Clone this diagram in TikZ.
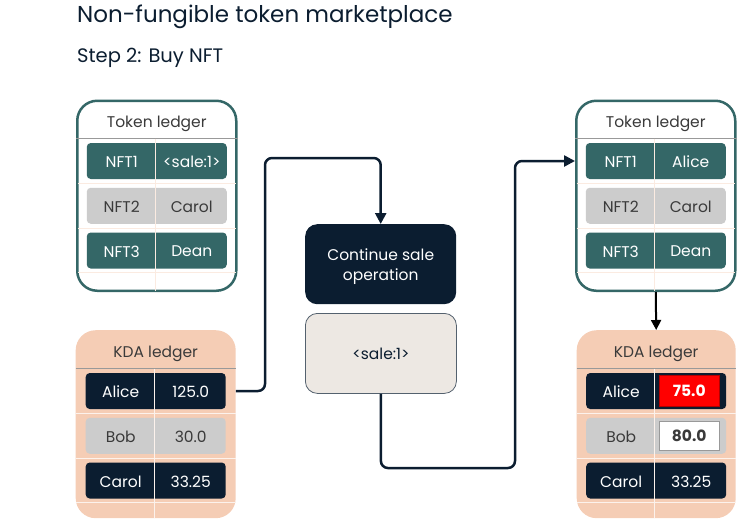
\documentclass[tikz,border=0pt]{standalone}
\usepackage{fontspec}
\setmainfont{Poppins}
\usetikzlibrary{arrows.meta,positioning,calc}

\definecolor{tealbox}{HTML}{346767}
\definecolor{navy}{HTML}{0B1D30}
\definecolor{peach}{HTML}{F5CDB5}
\definecolor{cellgray}{HTML}{CCCCCC}
\definecolor{beige}{HTML}{EDE8E3}
\definecolor{txtgray}{HTML}{3A3A3A}
\definecolor{alert}{HTML}{FF0000}

\begin{document}
\begin{tikzpicture}[x=1pt,y=-1pt,
  every node/.style={font=\fontsize{15.5}{20}\selectfont},
  ledger/.style={draw=tealbox,line width=2.5pt,rounded corners=20pt,fill=white,
    minimum width=159pt,minimum height=190pt,inner sep=0pt,anchor=north west},
  kda/.style={fill=peach,rounded corners=20pt,minimum width=160pt,
    minimum height=188pt,inner sep=0pt,anchor=north west},
  row/.style={rounded corners=4pt,minimum width=140pt,minimum height=36pt,inner sep=0pt},
  tealrow/.style={row,fill=tealbox},
  navyrow/.style={row,fill=navy},
  grayrow/.style={row,fill=cellgray},
  sepline/.style={draw=black!40,line width=1pt},
  gridline/.style={draw=peach!40,line width=0.8pt},
  opbox/.style={rounded corners=12pt,minimum width=151pt,minimum height=80pt,
    inner sep=0pt,align=center,anchor=north west},
  flow/.style={draw=navy,line width=2.5pt,rounded corners=7pt,
    -{Triangle[length=11pt,width=11pt]}},
]
\useasboundingbox (0,0) rectangle (746,520);

% titles
\node[anchor=west,inner sep=0pt,text=navy,font=\fontsize{23}{28}\selectfont] (title) at (77,17) {Non-fungible token marketplace};
\node[anchor=west,inner sep=0pt,text=navy,font=\fontsize{19.5}{24}\selectfont] (step) at (77,58) {Step 2: Buy NFT};

% token ledger, before
\node[ledger] (tokL) at (76,99.5) {};
\node[text=txtgray] (tokL-head) at ($(tokL.north)+(0,24.5)$) {Token ledger};
\draw[sepline] ($(tokL.north west)+(0,38.5)$) -- ($(tokL.north east)+(0,38.5)$);
\foreach \i/\a/\b/\s/\c in {1/NFT1/{<sale:1>}/tealrow/white,2/NFT2/Carol/grayrow/txtgray,3/NFT3/Dean/tealrow/white}{
  \node[\s] (tokL-r\i) at ($(tokL.north)+(0,16.75+44.75*\i)$) {};
  \node[text=\c] (tokL-a\i) at ($(tokL-r\i.center)+(-35,1)$) {\a};
  \node[text=\c] (tokL-b\i) at ($(tokL-r\i.center)+(35,1)$) {\b};
}
\foreach \k in {84,128.5,173}
  \draw[gridline] ($(tokL.north west)+(1.5,\k)$) -- ($(tokL.north east)+(-1.5,\k)$);
\draw[gridline] ($(tokL.north)+(-1.5,39)$) -- ($(tokL.south)+(-1.5,-1.5)$);

% KDA ledger, before
\node[kda] (kdaL) at (75.5,330) {};
\node[text=txtgray] (kdaL-head) at ($(kdaL.north)+(0,24)$) {KDA ledger};
\draw[sepline] ($(kdaL.north west)+(0,38)$) -- ($(kdaL.north east)+(0,38)$);
\foreach \i/\a/\b/\s/\c in {1/Alice/125.0/navyrow/white,2/Bob/30.0/grayrow/txtgray,3/Carol/33.25/navyrow/white}{
  \node[\s] (kdaL-r\i) at ($(kdaL.north)+(0,16.25+44.75*\i)$) {};
  \node[text=\c] (kdaL-a\i) at ($(kdaL-r\i.center)+(-35,1)$) {\a};
  \node[text=\c] (kdaL-b\i) at ($(kdaL-r\i.center)+(35,1)$) {\b};
}
\foreach \k in {83.5,128,172.5}
  \draw[gridline,draw=white!75!peach] (kdaL.north west |- 0,{330+\k}) -- (kdaL.north east |- 0,{330+\k});
\draw[gridline,draw=white!75!peach] ($(kdaL.north)+(-1.5,38.5)$) -- ($(kdaL.south)+(-1.5,0)$);

% operation
\node[opbox,fill=navy,text=white,text depth=0pt,yshift=-2pt] (op) at (305,222) {Continue sale\\operation};
\node[opbox,fill=beige,draw=navy!70,line width=0.8pt,text=navy] (sale) at (305,313) {<sale:1>};

% token ledger, after
\node[ledger] (tokR) at (575,99.5) {};
\node[text=txtgray] (tokR-head) at ($(tokR.north)+(0,24.5)$) {Token ledger};
\draw[sepline] ($(tokR.north west)+(0,38.5)$) -- ($(tokR.north east)+(0,38.5)$);
\foreach \i/\a/\b/\s/\c in {1/NFT1/Alice/tealrow/white,2/NFT2/Carol/grayrow/txtgray,3/NFT3/Dean/tealrow/white}{
  \node[\s] (tokR-r\i) at ($(tokR.north)+(0,16.75+44.75*\i)$) {};
  \node[text=\c] (tokR-a\i) at ($(tokR-r\i.center)+(-35,1)$) {\a};
  \node[text=\c] (tokR-b\i) at ($(tokR-r\i.center)+(35,1)$) {\b};
}
\foreach \k in {84,128.5,173}
  \draw[gridline] ($(tokR.north west)+(1.5,\k)$) -- ($(tokR.north east)+(-1.5,\k)$);
\draw[gridline] ($(tokR.north)+(-1.5,39)$) -- ($(tokR.south)+(-1.5,-1.5)$);

% KDA ledger, after
\node[kda,minimum width=159pt] (kdaR) at (576.5,330) {};
\node[text=txtgray] (kdaR-head) at ($(kdaR.north)+(0,24)$) {KDA ledger};
\draw[sepline] ($(kdaR.north west)+(0,38)$) -- ($(kdaR.north east)+(0,38)$);
\foreach \i/\a/\b/\s/\c in {1/Alice/{}/navyrow/white,2/Bob/{}/grayrow/txtgray,3/Carol/33.25/navyrow/white}{
  \node[\s] (kdaR-r\i) at ($(kdaR.north)+(0,16.25+44.75*\i)$) {};
  \node[text=\c] (kdaR-a\i) at ($(kdaR-r\i.center)+(-35,1)$) {\a};
  \node[text=\c] (kdaR-b\i) at ($(kdaR-r\i.center)+(35,1)$) {\b};
}
\foreach \k in {83.5,128,172.5}
  \draw[gridline,draw=white!75!peach] (kdaR.north west |- 0,{330+\k}) -- (kdaR.north east |- 0,{330+\k});
\draw[gridline,draw=white!75!peach] ($(kdaR.north)+(-1.5,38.5)$) -- ($(kdaR.south)+(-1.5,0)$);
\node[fill=alert,draw=red!70!black,line width=0.8pt,minimum width=60pt,minimum height=31pt,
  inner sep=0pt,text=white,font=\fontsize{15.5}{20}\selectfont\bfseries] (new1) at ($(kdaR-r1.center)+(33,0)$) {75.0};
\node[fill=white,draw=black!40,line width=0.8pt,minimum width=60pt,minimum height=29pt,
  inner sep=0pt,text=txtgray,font=\fontsize{15.5}{20}\selectfont\bfseries] (new2) at ($(kdaR-r2.center)+(33,0)$) {80.0};

% connectors
\coordinate (j1) at (265,158);
\coordinate (j2) at (515,468);
\draw[flow] (kdaL.east |- kdaL-r1) -| (j1) -| (op.north);
\draw[flow] (sale.south) |- (j2) |- (tokR.west |- tokR-r1);
\draw[line width=2pt,-{Triangle[length=10pt,width=10pt]}] (tokR.south) -- (kdaR.north);
\end{tikzpicture}
\end{document}
